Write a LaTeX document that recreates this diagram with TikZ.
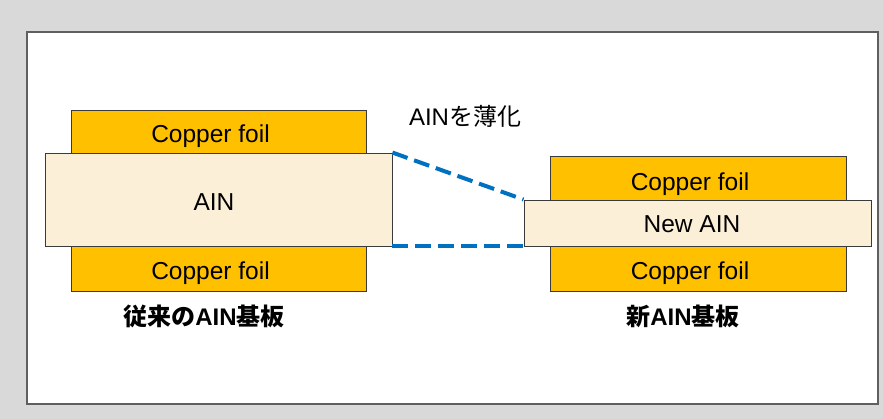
\documentclass[tikz,border=0pt]{standalone}
\usepackage{fontspec}
\setmainfont{Liberation Sans}
\newfontfamily\cjk{Noto Sans CJK JP}
\definecolor{bggray}{HTML}{D9D9D9}
\definecolor{framegray}{HTML}{5F5F5F}
\definecolor{copper}{HTML}{FFC000}
\definecolor{ain}{HTML}{FCEFD8}
\definecolor{dashblue}{HTML}{0070C0}
\definecolor{edge}{HTML}{3A3A3A}
% text placed with a fixed offset inside its box: [down]{left shift}{text}
\newcommand{\lowtext}[3][11.5pt]{\hspace*{-#2}\raisebox{-#1}[0pt][0pt]{#3}}
\begin{document}
\begin{tikzpicture}[x=1pt,y=-1pt,
  layer/.style={draw=edge,line width=0.9pt,inner sep=0pt,font=\fontsize{24.5}{28}\selectfont},
  copperbox/.style={layer,fill=copper},
  ainbox/.style={layer,fill=ain},
  caption/.style={inner sep=0pt,font=\fontsize{24}{28}\selectfont\bfseries},
  thinline/.style={dashblue,line width=4pt,dash pattern=on 16pt off 7pt}]
\useasboundingbox (0,0) rectangle (883,419);
\fill[bggray] (0,0) rectangle (883,419);
\draw[framegray,fill=white,line width=1.3pt] (27,32) rectangle (878,404);
% left stack
\node[copperbox,minimum width=295pt,minimum height=43pt] (lct) at (219,131.5) {\lowtext{17pt}{Copper foil}};
\node[copperbox,minimum width=295pt,minimum height=45pt] (lcb) at (219,268.5) {\lowtext{17pt}{Copper foil}};
\node[ainbox,minimum width=347pt,minimum height=93pt] (lain) at (218.5,199.5) {\lowtext[11pt]{9pt}{AIN}};
% right stack
\node[copperbox,minimum width=296pt,minimum height=44pt] (rct) at (698,178) {\lowtext[12.5pt]{16pt}{Copper foil}};
\node[copperbox,minimum width=296pt,minimum height=45pt] (rcb) at (698,268.5) {\lowtext{16pt}{Copper foil}};
\node[ainbox,minimum width=347pt,minimum height=46pt] (rain) at (697.5,223) {\lowtext[9.5pt]{11pt}{New AIN}};
% connectors
\draw[thinline] (lain.north east) -- (rain.north west);
\draw[thinline] (lain.south east) -- (rain.south west);
% labels
\node[inner sep=0pt,font=\fontsize{24}{28}\selectfont] (thin) at (465,116.5) {AIN{\cjk を薄化}};
\node[caption] (lcap) at (204,316) {{\cjk 従来の}AIN{\cjk 基板}};
\node[caption] (rcap) at (683,316) {{\cjk 新}AIN{\cjk 基板}};
\end{tikzpicture}
\end{document}
